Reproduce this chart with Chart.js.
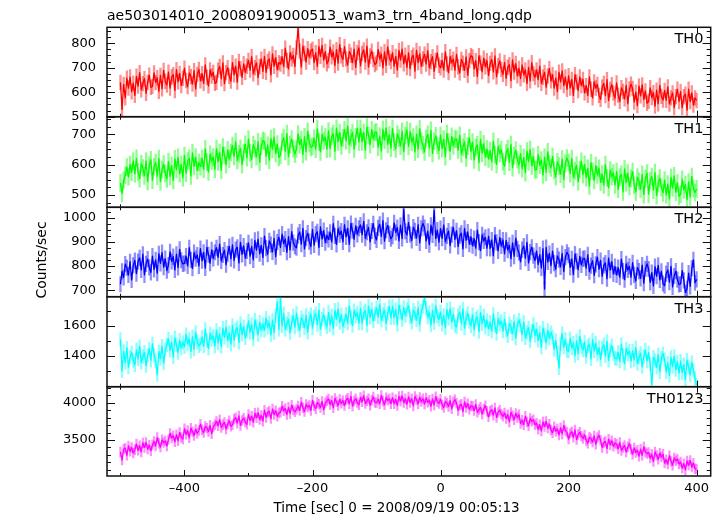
<!DOCTYPE html>
<html><head><meta charset="utf-8">
<script src="https://cdn.jsdelivr.net/npm/chart.js@4.4.1/dist/chart.umd.min.js"></script>
<style>
html,body{margin:0;padding:0;background:#fff;}
#wrap{position:relative;width:722px;height:516px;overflow:hidden;}
#wrap canvas{position:absolute;left:0;top:0;}
</style></head><body>
<div id="wrap">
<canvas id="c0" width="722" height="516"></canvas>
<canvas id="c1" width="722" height="516"></canvas>
<canvas id="c2" width="722" height="516"></canvas>
<canvas id="c3" width="722" height="516"></canvas>
<canvas id="c4" width="722" height="516"></canvas>
</div>
<script>
// ---------------- data ----------------
const plotTitle = 'ae503014010_20080919000513_wam3_trn_4band_long.qdp';
const xAxisTitle = 'Time [sec] 0 = 2008/09/19 00:05:13';
const yAxisTitle = 'Counts/sec';
const panelLabels = ['TH0', 'TH1', 'TH2', 'TH3', 'TH0123'];
const timeStart = -500;   // first bin (sec)
const timeStep = 2.5;     // bin width (sec)
const xTickValues = [-400, -200, 0, 200, 400];
const yTicksTH0 = [500, 600, 700, 800];
const yTicksTH1 = [500, 600, 700];
const yTicksTH2 = [700, 800, 900, 1000];
const yTicksTH3 = [1400, 1600];
const yTicksTH0123 = [3500, 4000];
// typical 1-sigma error bar of a bin (counts/sec)
const errTH0 = 30, errTH1 = 28, errTH2 = 32, errTH3 = 45, errTH0123 = 65;

const th0 = [
640,530,632,577,657,617,662,602,637,587,
665,625,680,610,635,655,595,640,670,620,
624,679,639,659,604,669,614,689,644,629,
682,617,662,672,607,692,642,677,627,657,
698,648,623,678,663,633,688,613,673,693,
646,676,636,711,661,626,691,666,681,636,
640,690,705,655,720,635,680,700,665,645,
721,671,706,641,726,696,661,716,681,706,
730,690,745,675,700,720,660,705,735,685,
746,681,726,736,671,756,706,741,691,721,
715,745,705,780,730,695,760,735,750,705,
783,862,768,703,788,758,723,778,743,768,
776,721,761,706,786,746,791,731,766,716,
729,784,744,764,709,774,719,794,749,734,
786,736,711,766,751,721,776,701,761,781,
708,758,773,723,788,703,748,768,733,713,
720,775,735,755,700,765,710,785,740,725,
761,706,746,691,771,731,776,716,751,701,
761,696,741,751,686,771,721,756,706,736,
755,715,770,700,725,745,685,730,760,710,
700,730,690,765,715,680,745,720,735,690,
754,704,679,734,719,689,744,669,729,749,
744,694,729,664,749,719,684,739,704,729,
668,718,733,683,748,663,708,728,693,673,
722,657,702,712,647,732,682,717,667,697,
656,711,671,691,636,701,646,721,676,661,
691,651,706,636,661,681,621,666,696,646,
672,617,657,602,682,642,687,627,662,612,
667,617,652,587,672,642,607,662,627,652,
597,627,587,662,612,577,642,617,632,587,
571,621,636,586,651,566,611,631,596,576,
638,588,563,618,603,573,628,553,613,633,
615,560,600,545,625,585,630,570,605,555,
563,618,578,598,543,608,553,628,583,568,
607,567,622,552,577,597,537,582,612,562,
602,537,582,592,527,612,562,597,547,577,
566];

const th1 = [
540,505,548,565,592,560,600,575,612,570,
621,576,554,603,589,563,612,545,598,616,
549,593,607,562,620,544,584,602,571,553,
610,561,597,548,619,584,624,570,601,557,
630,572,612,621,563,639,594,625,581,607,
594,621,585,652,608,576,634,612,625,585,
653,609,640,582,658,631,600,649,618,640,
663,627,676,614,636,654,600,640,667,623,
684,639,617,666,652,626,675,608,661,679,
677,628,664,615,686,651,691,637,668,624,
631,675,689,644,702,626,666,684,653,635,
652,701,666,683,634,692,643,710,670,657,
660,687,651,718,674,642,700,678,691,651,
711,653,693,702,644,720,675,706,662,688,
715,679,728,666,688,706,652,692,719,675,
719,675,706,648,724,697,666,715,684,706,
707,658,694,645,716,681,721,667,698,654,
719,674,652,701,687,661,710,643,696,714,
660,709,674,691,642,700,651,718,678,665,
642,686,700,655,713,637,677,695,664,646,
697,653,684,626,702,675,644,693,662,684,
684,648,697,635,657,675,621,661,688,644,
674,616,656,665,607,683,638,669,625,651,
619,646,610,677,633,601,659,637,650,610,
595,639,653,608,666,590,630,648,617,599,
636,587,623,574,645,610,650,596,627,583,
584,633,598,615,566,624,575,642,602,589,
627,582,560,609,595,569,618,551,604,622,
607,571,620,558,580,598,544,584,611,567,
601,557,588,530,606,579,548,597,566,588,
542,569,533,600,556,524,582,560,573,533,
577,519,559,568,510,586,541,572,528,554,
577,532,510,559,545,519,568,501,554,572,
503,547,561,516,574,498,538,556,525,507,
549,500,536,487,558,523,563,509,540,496,
503,552,517,534,485,543,494,561,521,508,
520];

const th2 = [
725,778,753,808,793,763,818,743,803,823,
769,819,834,784,849,764,809,829,794,774,
841,786,826,771,851,811,856,796,831,781,
804,859,819,839,784,849,794,869,824,809,
811,841,801,876,826,791,856,831,846,801,
872,822,857,792,877,847,812,867,832,857,
876,836,891,821,846,866,806,851,881,831,
888,823,868,878,813,898,848,883,833,863,
896,841,881,826,906,866,911,851,886,836,
924,874,849,904,889,859,914,839,899,919,
877,932,892,912,857,922,867,942,897,882,
876,926,941,891,956,871,916,936,901,881,
952,887,932,942,877,962,912,947,897,927,
910,940,900,975,925,890,955,930,945,900,
971,921,956,891,976,946,911,966,931,956,
970,930,985,915,940,960,900,945,975,925,
908,958,973,923,988,903,948,968,933,913,
924,979,939,959,904,969,914,1035,944,929,
981,931,906,961,946,916,971,896,956,976,
959,904,944,889,969,929,1030,914,949,899,
955,915,970,900,925,945,885,930,960,910,
946,881,926,936,871,956,906,941,891,921,
884,914,874,949,899,864,929,904,919,874,
923,873,908,843,928,898,863,918,883,908,
851,906,866,886,831,896,841,916,871,856,
818,868,883,833,898,813,858,878,843,823,
862,807,847,792,872,705,877,817,852,802,
862,812,787,842,827,797,852,777,837,857,
845,795,830,765,850,820,785,840,805,830,
832,792,847,777,802,822,762,807,837,787,
823,758,803,813,748,833,783,818,768,798,
764,794,754,829,779,744,809,784,799,754,
814,764,739,794,779,749,804,729,789,809,
788,733,773,718,798,758,803,743,778,728,
719,769,784,734,799,714,759,779,744,724,
726,781,741,690,706,771,716,791,826,731,
745];

const th3 = [
1510,1300,1430,1355,1453,1325,1393,1423,1370,1340,
1440,1380,1463,1357,1395,1425,1335,1403,1448,1372,
1480,1405,1367,1275,1428,1382,1465,1352,1443,1473,
1513,1437,1490,1392,1520,1475,1422,1505,1452,1490,
1460,1543,1482,1513,1430,1528,1445,1558,1490,1467,
1480,1525,1465,1578,1502,1450,1548,1510,1533,1465,
1570,1487,1547,1464,1585,1524,1592,1502,1555,1479,
1603,1505,1573,1588,1490,1618,1543,1596,1520,1566,
1633,1557,1610,1512,1640,1595,1542,1625,1572,1610,
1570,1653,1592,1623,1540,1638,1555,1668,1760,1577,
1790,1600,1683,1577,1615,1645,1555,1623,1668,1592,
1685,1610,1572,1655,1633,1587,1670,1557,1648,1678,
1585,1661,1683,1608,1706,1578,1646,1676,1623,1593,
1690,1607,1667,1584,1705,1644,1712,1622,1675,1599,
1634,1679,1619,1732,1656,1604,1702,1664,1687,1619,
1717,1619,1687,1702,1604,1732,1657,1710,1634,1680,
1721,1661,1744,1638,1676,1706,1616,1684,1729,1653,
1732,1656,1709,1611,1739,1694,1641,1724,1671,1709,
1736,1661,1623,1706,1684,1638,1721,1608,1699,1729,
1785,1719,1658,1689,1606,1704,1621,1734,1666,1643,
1694,1611,1671,1588,1709,1648,1716,1626,1679,1603,
1593,1669,1691,1616,1714,1586,1654,1684,1631,1601,
1675,1577,1645,1660,1562,1690,1615,1668,1592,1638,
1580,1625,1565,1678,1602,1550,1648,1610,1633,1565,
1646,1571,1533,1616,1594,1548,1631,1518,1609,1639,
1603,1543,1626,1520,1558,1588,1498,1566,1611,1535,
1579,1503,1556,1458,1586,1541,1488,1571,1518,1556,
1527,1444,1504,1421,1320,1481,1549,1459,1512,1436,
1432,1515,1454,1485,1402,1500,1417,1530,1462,1439,
1493,1395,1463,1478,1380,1508,1433,1486,1410,1456,
1377,1453,1475,1400,1498,1370,1438,1468,1415,1385,
1380,1425,1365,1478,1402,1350,1448,1410,1433,1365,
1433,1373,1456,1350,1388,1418,1328,1396,1441,1365,
1422,1347,1210,1392,1370,1324,1407,1294,1385,1415,
1376,1293,1353,1270,1391,1330,1398,1308,1361,1285,
1365,1289,1342,1244,1372,1327,1274,1357,1304,1250,
1205];

const th0123 = [
3340,3230,3377,3392,3294,3422,3347,3400,3324,3370,
3446,3363,3423,3340,3461,3400,3468,3378,3431,3355,
3435,3480,3420,3533,3457,3405,3503,3465,3488,3420,
3505,3588,3527,3558,3475,3573,3490,3603,3535,3512,
3651,3575,3628,3530,3658,3613,3560,3643,3590,3628,
3712,3637,3599,3682,3660,3614,3697,3584,3675,3705,
3750,3690,3773,3667,3705,3735,3645,3713,3758,3682,
3702,3778,3800,3725,3823,3695,3763,3793,3740,3710,
3843,3760,3820,3737,3858,3797,3865,3775,3828,3752,
3900,3802,3870,3885,3787,3915,3840,3893,3817,3863,
3870,3953,3892,3923,3840,3938,3855,3968,3900,3877,
3910,3955,3895,4008,3932,3880,3978,3940,3963,3895,
4032,3957,3919,4002,3980,3934,4017,3904,3995,4025,
4051,3975,4028,3930,4058,4013,3960,4043,3990,4028,
3962,4038,4060,3985,4083,3955,4023,4053,4000,3970,
4070,4010,4093,3987,4025,4055,3965,4033,4078,4002,
4000,4045,3985,4098,4022,3970,4068,4030,4053,3985,
4068,3985,4045,3962,4083,4022,4090,4000,4053,3977,
4077,4001,4054,3956,4084,4039,3986,4069,4016,4054,
3982,4065,4004,4035,3952,4050,3967,4080,4012,3989,
4046,3971,3933,4016,3994,3948,4031,3918,4009,4039,
3994,3896,3964,3979,3881,4009,3934,3987,3911,3957,
3953,3893,3976,3870,3908,3938,3848,3916,3961,3885,
3809,3885,3907,3832,3930,3802,3870,3900,3847,3817,
3863,3787,3840,3742,3870,3825,3772,3855,3802,3840,
3720,3765,3705,3818,3742,3690,3788,3750,3773,3705,
3727,3644,3704,3621,3742,3681,3749,3659,3712,3636,
3596,3679,3618,3649,3566,3664,3581,3694,3626,3603,
3513,3589,3611,3536,3634,3506,3574,3604,3551,3521,
3569,3494,3456,3539,3517,3471,3554,3441,3532,3562,
3497,3399,3467,3482,3384,3512,3437,3490,3414,3460,
3443,3383,3466,3360,3398,3428,3338,3406,3451,3375,
3310,3393,3332,3363,3280,3378,3295,3408,3340,3317,
3333,3257,3310,3212,3340,3295,3242,3325,3272,3310,
3192,3237,3177,3290,3214,3162,3260,3222,3245,3177,
3206,3123,3183,3100,3221,3160,3228,3138,3191,3115,
3110];

// ---------------- layout / style ----------------
const FONT = '"DejaVu Sans", "Liberation Sans", sans-serif';
const X_MIN = -521, X_MAX = 422;
const PLOT_LEFT = 107, PLOT_RIGHT = 710.7;
const panels = [
  {values: th0,    err: errTH0,    ticks: yTicksTH0,    min: 500,  max: 865,  minor: 25,  top: 27.3,  bottom: 116.7, color: '#ff0000', halo: 'rgba(255,30,30,0.5)'},
  {values: th1,    err: errTH1,    ticks: yTicksTH1,    min: 459.5,max: 758,  minor: 25,  top: 116.7, bottom: 207.3, color: '#00ff00', halo: 'rgba(30,255,30,0.5)'},
  {values: th2,    err: errTH2,    ticks: yTicksTH2,    min: 673.5,max: 1043, minor: 25,  top: 207.3, bottom: 296.7, color: '#0000ff', halo: 'rgba(30,30,255,0.5)'},
  {values: th3,    err: errTH3,    ticks: yTicksTH3,    min: 1195, max: 1795, minor: 100, top: 296.7, bottom: 386.7, color: '#00ffff', halo: 'rgba(30,255,255,0.5)'},
  {values: th0123, err: errTH0123, ticks: yTicksTH0123, min: 3018, max: 4214, minor: 100, top: 386.7, bottom: 476,   color: '#ff00ff', halo: 'rgba(255,30,255,0.5)'}
];

const fmt = v => (v < 0 ? '\u2013' + Math.abs(v) : String(v));

const qdpPlugin = {
  id: 'qdp',
  afterDatasetsDraw(chart, args, o) {
    const {ctx, chartArea: a} = chart;
    const xs = chart.scales.x, ys = chart.scales.y;
    ctx.save();
    ctx.strokeStyle = '#111';
    ctx.lineWidth = 1;
    ctx.beginPath();
    for (let v = -500; v <= 400; v += 100) {
      const px = Math.round(xs.getPixelForValue(v)) + 0.5;
      const len = (v % 200 === 0) ? 6 : 3;
      ctx.moveTo(px, a.top); ctx.lineTo(px, a.top + len);
      ctx.moveTo(px, a.bottom); ctx.lineTo(px, a.bottom - len);
    }
    const majorStep = o.ticks[1] - o.ticks[0];
    for (let v = Math.ceil(ys.min / o.minor) * o.minor; v <= ys.max; v += o.minor) {
      const py = Math.round(ys.getPixelForValue(v)) + 0.5;
      const len = (Math.abs(v % majorStep) < 1e-6) ? 8 : 4;
      ctx.moveTo(a.left, py); ctx.lineTo(a.left + len, py);
      ctx.moveTo(a.right, py); ctx.lineTo(a.right - len, py);
    }
    ctx.stroke();
    ctx.lineWidth = 1.5;
    ctx.strokeRect(a.left, a.top, a.right - a.left, a.bottom - a.top);
    ctx.fillStyle = '#000';
    ctx.font = '14.5px ' + FONT;
    ctx.textAlign = 'right';
    ctx.textBaseline = 'alphabetic';
    ctx.fillText(o.label, 703.5, a.top + 16);
    if (o.first) {
      ctx.font = '14px ' + FONT;
      ctx.textAlign = 'left';
      ctx.fillText(plotTitle, 107, 19.5);
    }
    if (o.last) {
      ctx.font = '13.5px ' + FONT;
      ctx.textAlign = 'center';
      ctx.fillText(xAxisTitle, 396.5, 512);
      ctx.save();
      ctx.translate(46, 260);
      ctx.rotate(-Math.PI / 2);
      ctx.font = '14px ' + FONT;
      ctx.textAlign = 'center';
      ctx.fillText(yAxisTitle, 0, 0);
      ctx.restore();
    }
    ctx.restore();
  }
};

const XH = 22;
panels.forEach((p, i) => {
  const isLast = i === panels.length - 1;
  const pts = p.values.map((v, k) => ({x: timeStart + k * timeStep, y: v}));
  const bars = p.values.map((v, k) => ({x: timeStart + k * timeStep, y: [v - p.err, v + p.err]}));
  new Chart(document.getElementById('c' + i), {
    type: 'bar',
    data: {datasets: [
      {type: 'line', data: pts, borderColor: p.color, borderWidth: 1.3, borderJoinStyle: 'round',
       pointRadius: 0, tension: 0, fill: false, order: 0},
      {type: 'bar', data: bars, backgroundColor: p.halo, borderWidth: 0, barThickness: 1.6,
       grouped: false, order: 1}
    ]},
    options: {
      responsive: false, animation: false, events: [],
      layout: {padding: {left: 30, right: 722 - PLOT_RIGHT, top: p.top,
                         bottom: isLast ? 516 - p.bottom - XH : 516 - p.bottom}},
      plugins: {
        legend: {display: false}, tooltip: {enabled: false}, title: {display: false},
        qdp: {label: panelLabels[i], ticks: p.ticks, minor: p.minor, first: i === 0, last: isLast}
      },
      scales: {
        x: {
          type: 'linear', min: X_MIN, max: X_MAX, display: isLast, offset: false,
          afterBuildTicks: s => { s.ticks = xTickValues.map(v => ({value: v})); },
          afterFit: s => { if (isLast) s.height = XH; },
          grid: {display: false, drawTicks: false, offset: false}, border: {display: false},
          ticks: {color: '#000', font: {family: FONT, size: 13}, padding: 5, autoSkip: false, maxRotation: 0, callback: v => fmt(v)}
        },
        y: {
          type: 'linear', min: p.min, max: p.max, position: 'left',
          afterBuildTicks: s => { s.ticks = p.ticks.map(v => ({value: v})); },
          afterFit: s => { s.width = PLOT_LEFT - 30; },
          grid: {display: false, drawTicks: false}, border: {display: false},
          ticks: {color: '#000', font: {family: FONT, size: 13}, padding: 11, autoSkip: false, callback: v => fmt(v)}
        }
      }
    },
    plugins: [qdpPlugin]
  });
});
</script>
</body></html>
